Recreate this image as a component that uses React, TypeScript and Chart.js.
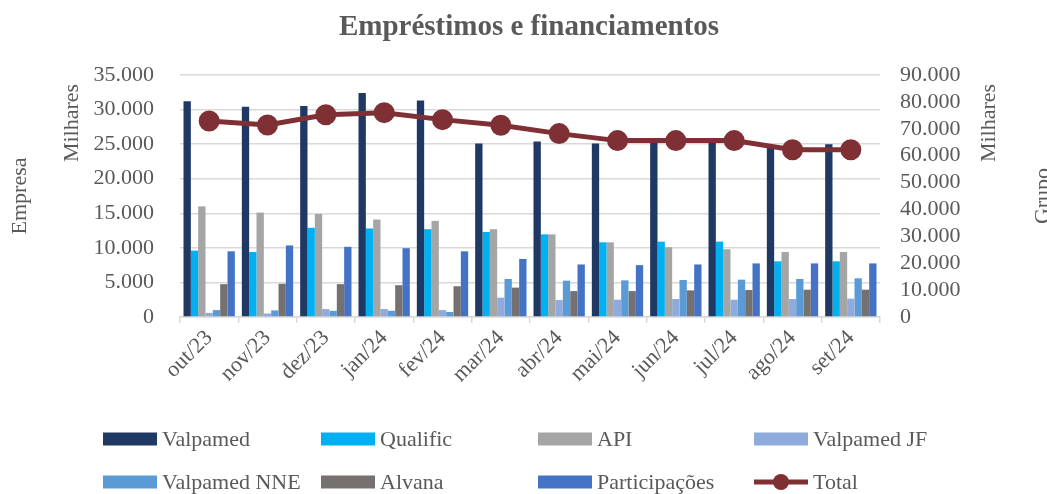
import React, { useEffect, useRef } from "react";
import { Chart, registerables } from "chart.js";

Chart.register(...registerables);

const categories = ["out/23", "nov/23", "dez/23", "jan/24", "fev/24", "mar/24", "abr/24", "mai/24", "jun/24", "jul/24", "ago/24", "set/24"];
const valpamed = [31200, 30400, 30500, 32400, 31300, 25100, 25400, 25100, 25300, 25300, 24600, 25000];
const qualific = [9600, 9400, 12900, 12800, 12700, 12300, 11950, 10800, 10900, 10900, 8050, 8050];
const api = [16000, 15100, 14900, 14100, 13900, 12700, 11950, 10800, 10100, 9800, 9400, 9400];
const valpamedJF = [600, 500, 1150, 1150, 1000, 2800, 2450, 2500, 2600, 2500, 2600, 2650];
const valpamedNNE = [1000, 950, 900, 900, 720, 5500, 5250, 5300, 5350, 5400, 5500, 5600];
const alvana = [4750, 4800, 4750, 4600, 4450, 4250, 3750, 3750, 3850, 3900, 3950, 3950];
const participacoes = [9500, 10350, 10150, 9950, 9500, 8400, 7600, 7500, 7600, 7750, 7750, 7750];
const total = [72900, 71400, 75200, 76000, 73400, 71300, 68200, 65600, 65600, 65600, 62200, 62200];

const chartTitle = "Empréstimos e financiamentos";
const leftTitle = "Empresa";
const rightTitle = "Grupo";
const unitLabel = "Milhares";

const FONT = "'Liberation Serif', 'Times New Roman', serif";
const TEXT = "#595959";
const GRID = "#d9d9d9";

const fmt = (v: number) => String(v).replace(/\B(?=(\d{3})+(?!\d))/g, ".");

const decorPlugin = {
  id: "decor",
  afterDraw(chart: any) {
    const ctx = chart.ctx;
    const area = chart.chartArea;
    ctx.save();
    ctx.fillStyle = TEXT;
    // title
    ctx.font = `bold 29px ${FONT}`;
    ctx.textAlign = "center";
    ctx.textBaseline = "alphabetic";
    ctx.fillText(chartTitle, 529, 35);

    // rotated axis titles
    ctx.font = `22px ${FONT}`;
    const vtext = (t: string, x: number, y: number) => {
      ctx.save();
      ctx.translate(x, y);
      ctx.rotate(-Math.PI / 2);
      ctx.textAlign = "center";
      ctx.textBaseline = "middle";
      ctx.fillText(t, 0, 0);
      ctx.restore();
    };
    const midY = (area.top + area.bottom) / 2;
    vtext(leftTitle, 20, midY);
    vtext(unitLabel, 72, area.top + 48);
    vtext(unitLabel, 989, area.top + 48);
    vtext(rightTitle, 1043, midY);

    // legend (4 columns x 2 rows)
    const colX = [103, 321, 538, 754];
    const rowY = [439, 482];
    ctx.font = `22px ${FONT}`;
    ctx.textAlign = "left";
    ctx.textBaseline = "middle";
    chart.data.datasets.forEach((ds: any, i: number) => {
      const x = colX[i % 4];
      const y = rowY[Math.floor(i / 4)];
      if (ds.type === "line") {
        ctx.strokeStyle = ds.borderColor;
        ctx.lineWidth = 5;
        ctx.beginPath();
        ctx.moveTo(x, y);
        ctx.lineTo(x + 54, y);
        ctx.stroke();
        ctx.fillStyle = ds.borderColor;
        ctx.beginPath();
        ctx.arc(x + 27, y, 8, 0, Math.PI * 2);
        ctx.fill();
      } else {
        ctx.fillStyle = ds.backgroundColor;
        ctx.fillRect(x, y - 6.5, 54, 13);
      }
      ctx.fillStyle = TEXT;
      ctx.fillText(ds.label, x + 59, y + 1);
    });
    ctx.restore();
  },
};

export default function App() {
  const ref = useRef<HTMLCanvasElement | null>(null);

  useEffect(() => {
    if (!ref.current) return;
    Chart.defaults.font.family = FONT;
    const bar = (label: string, data: number[], color: string) => ({
      type: "bar" as const,
      label,
      data,
      backgroundColor: color,
      borderWidth: 0,
      yAxisID: "y",
      order: 1,
      categoryPercentage: 0.88,
      barPercentage: 1,
    });
    const chart = new Chart(ref.current, {
      type: "bar",
      data: {
        labels: categories,
        datasets: [
          bar("Valpamed", valpamed, "#203864"),
          bar("Qualific", qualific, "#00B0F0"),
          bar("API", api, "#A5A5A5"),
          bar("Valpamed JF", valpamedJF, "#8FAADC"),
          bar("Valpamed NNE", valpamedNNE, "#5B9BD5"),
          bar("Alvana", alvana, "#767171"),
          bar("Participações", participacoes, "#4472C4"),
          {
            type: "line" as const,
            label: "Total",
            data: total,
            borderColor: "#7F3035",
            backgroundColor: "#7F3035",
            borderWidth: 5,
            pointRadius: 8,
            pointBackgroundColor: "#7F3035",
            pointBorderColor: "#7F3035",
            tension: 0,
            yAxisID: "y1",
            order: 0,
          } as any,
        ],
      },
      options: {
        animation: false,
        responsive: true,
        maintainAspectRatio: false,
        layout: { padding: { top: 75, left: 0, right: 0, bottom: 0 } },
        plugins: {
          legend: { display: false },
          title: { display: false },
          tooltip: { enabled: false },
        },
        scales: {
          x: {
            offset: true,
            grid: {
              display: true,
              offset: true,
              drawOnChartArea: false,
              drawTicks: true,
              tickLength: 6,
              color: GRID,
              lineWidth: 1.5,
            },
            border: { display: true, color: GRID, width: 1.5 },
            ticks: {
              color: TEXT,
              font: { size: 22, family: FONT },
              minRotation: 45,
              maxRotation: 45,
              padding: 2,
              autoSkip: false,
            },
            afterFit: (s: any) => {
              s.height = 177;
            },
          },
          y: {
            position: "left",
            min: 0,
            max: 35000,
            grid: { color: GRID, lineWidth: 1.5, drawTicks: false },
            border: { display: false },
            ticks: {
              stepSize: 5000,
              autoSkip: false,
              color: TEXT,
              font: { size: 22, family: FONT },
              padding: 26,
              callback: (v: any) => fmt(Number(v)),
            },
            afterFit: (s: any) => {
              s.width = 180;
            },
          },
          y1: {
            position: "right",
            min: 0,
            max: 90000,
            grid: { drawOnChartArea: false, drawTicks: false },
            border: { display: false },
            ticks: {
              stepSize: 10000,
              autoSkip: false,
              color: TEXT,
              font: { size: 22, family: FONT },
              padding: 20,
              callback: (v: any) => fmt(Number(v)),
            },
            afterFit: (s: any) => {
              s.width = 167;
            },
          },
        },
      },
      plugins: [decorPlugin],
    } as any);
    return () => chart.destroy();
  }, []);

  return (
    <div style={{ position: "fixed", left: 0, top: 0, width: 1047, height: 494, background: "#fff" }}>
      <canvas ref={ref} />
    </div>
  );
}
